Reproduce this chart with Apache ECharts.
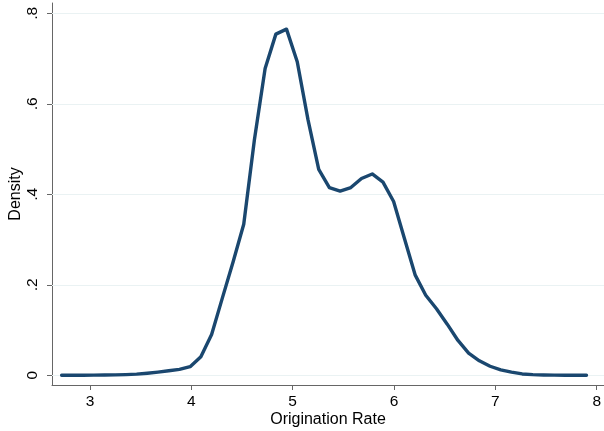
<!DOCTYPE html>
<html>
<head>
<meta charset="utf-8">
<script src="https://cdn.jsdelivr.net/npm/echarts@6/dist/echarts.min.js"></script>
<style>
  html, body { margin: 0; padding: 0; background: #fff; }
  #chart { width: 604px; height: 431px; }
</style>
</head>
<body>
<div id="chart"></div>
<script>
// Kernel density estimate of the origination rate (50 evaluation points)
const rate = [
  2.720, 2.826, 2.931, 3.037, 3.143, 3.248, 3.354, 3.460, 3.566, 3.671,
  3.777, 3.883, 3.988, 4.094, 4.200, 4.305, 4.411, 4.517, 4.622, 4.728,
  4.834, 4.939, 5.045, 5.151, 5.257, 5.362, 5.468, 5.574, 5.679, 5.785,
  5.891, 5.996, 6.102, 6.208, 6.313, 6.419, 6.525, 6.631, 6.736, 6.842,
  6.948, 7.053, 7.159, 7.265, 7.370, 7.476, 7.582, 7.688, 7.793, 7.899
];
const density = [
  0.0000, 0.0001, 0.0002, 0.0003, 0.0006, 0.0010, 0.0015, 0.0025, 0.0045, 0.0070,
  0.0100, 0.0130, 0.0190, 0.0410, 0.0900, 0.1700, 0.2500, 0.3340, 0.5200, 0.6780,
  0.7540, 0.7650, 0.6930, 0.5650, 0.4550, 0.4150, 0.4070, 0.4150, 0.4350, 0.4450,
  0.4270, 0.3840, 0.3030, 0.2220, 0.1770, 0.1470, 0.1130, 0.0770, 0.0490, 0.0320,
  0.0200, 0.0120, 0.0070, 0.0030, 0.0015, 0.0007, 0.0003, 0.0001, 0.0000, 0.0000
];
const xTicks = [3, 4, 5, 6, 7, 8];
const yTicks = [0, 0.2, 0.4, 0.6, 0.8];

const font = '"Liberation Sans", Arial, Helvetica, sans-serif';
const axisColor = '#666666';

const chart = echarts.init(document.getElementById('chart'), null, { renderer: 'canvas' });

chart.setOption({
  animation: false,
  backgroundColor: '#ffffff',
  grid: { left: 52, right: 0, top: 3, bottom: 46, containLabel: false, outerBoundsMode: 'none' },
  xAxis: {
    type: 'value',
    min: 2.625,
    max: 8.072,
    name: 'Origination Rate',
    nameLocation: 'middle',
    nameGap: 27,
    nameMoveOverlap: false,
    nameTextStyle: { fontFamily: font, fontSize: 16, color: '#000' },
    axisLine: { show: true, onZero: false, lineStyle: { color: axisColor, width: 1 } },
    axisTick: { show: true, length: 5, customValues: xTicks, lineStyle: { color: axisColor } },
    axisLabel: {
      customValues: xTicks,
      margin: 9,
      fontFamily: font, fontSize: 15.5, color: '#000'
    },
    splitLine: { show: false }
  },
  yAxis: {
    type: 'value',
    min: -0.02144,
    max: 0.8228,
    name: 'Density',
    nameLocation: 'middle',
    nameGap: 28,
    nameMoveOverlap: false,
    nameTextStyle: { fontFamily: font, fontSize: 16, color: '#000' },
    axisLine: { show: true, onZero: false, lineStyle: { color: axisColor, width: 1 } },
    axisTick: { show: true, length: 5, customValues: yTicks, lineStyle: { color: axisColor } },
    axisLabel: {
      customValues: yTicks,
      rotate: 90,
      margin: 11,
      fontFamily: font, fontSize: 15.5, color: '#000',
      formatter: v => (v === 0 ? '0' : String(v).replace(/^0/, ''))
    },
    splitLine: { show: false }
  },
  series: [
    {
      type: 'line',
      name: 'gridlines',
      data: [],
      silent: true,
      z: 1,
      markLine: {
        silent: true,
        symbol: 'none',
        z: 1,
        label: { show: false },
        lineStyle: { color: '#eaf2f3', width: 1, type: 'solid' },
        data: yTicks.map(v => ({ yAxis: v }))
      }
    },
    {
      type: 'line',
      name: 'Density',
      data: rate.map((x, i) => [x, density[i]]),
      showSymbol: false,
      smooth: false,
      z: 3,
      lineStyle: { color: '#1a476f', width: 3.4, cap: 'round', join: 'round' }
    }
  ]
});
</script>
</body>
</html>
